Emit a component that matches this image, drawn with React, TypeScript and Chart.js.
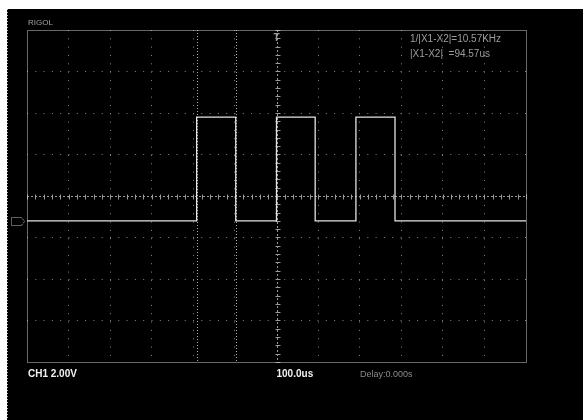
import React, { useEffect, useRef } from "react";
import { Chart, registerables } from "chart.js";
Chart.register(...registerables);

// Time axis (microseconds) and channel voltage of the captured trace
const timeUs = [-600, -192, -192, -98, -98, 0, 0, 93, 93, 191, 191, 285, 285, 600];
const volts = [0, 0, 5, 5, 0, 0, 5, 5, 0, 0, 5, 5, 0, 0];
// Screen range: 12 divisions of 100us, 8 divisions of 2V (offset +1.2V)
const xMin = -600;
const xMax = 600;
const xDiv = 100;
const yMin = -6.8;
const yMax = 9.2;
const yDiv = 2;
const yCenter = 1.2;
const groundV = 0;
const cursorUs = [-192, -97.4];
const brandLabel = "RIGOL";
const cursorTexts = ["1/|X1-X2|=10.57KHz", "|X1-X2|  =94.57us"];
const channelLabel = "CH1 2.00V";
const timebaseLabel = "100.0us";
const delayLabel = "Delay:0.000s";

const divTicks = (min: number, max: number, step: number) => {
  const out: { value: number }[] = [];
  const n = Math.round((max - min) / step);
  for (let i = 0; i <= n; i++) out.push({ value: +(min + i * step).toFixed(4) });
  return out;
};

const scopePlugin = {
  id: "scope",
  beforeDraw(chart: any) {
    const ctx = chart.ctx;
    ctx.save();
    ctx.fillStyle = "#ffffff";
    ctx.fillRect(0, 0, chart.width, chart.height);
    ctx.fillStyle = "#000000";
    ctx.fillRect(7, 9, chart.width - 7, chart.height - 9);
    ctx.strokeStyle = "#bbbbbb";
    ctx.setLineDash([1, 2]);
    ctx.beginPath();
    ctx.moveTo(7.5, 9);
    ctx.lineTo(7.5, chart.height);
    ctx.stroke();
    ctx.restore();
  },
  beforeDatasetsDraw(chart: any) {
    const ctx = chart.ctx;
    const { left, right, top, bottom } = chart.chartArea;
    const xs = chart.scales.x;
    const ys = chart.scales.y;
    ctx.save();
    // center lines
    const cx = Math.round(xs.getPixelForValue(0)) + 0.5;
    const cy = Math.round(ys.getPixelForValue(yCenter)) + 0.5;
    ctx.strokeStyle = "#9a9a9a";
    ctx.lineWidth = 1;
    ctx.setLineDash([2, 2]);
    ctx.beginPath();
    ctx.moveTo(left, cy);
    ctx.lineTo(right, cy);
    ctx.moveTo(cx, top);
    ctx.lineTo(cx, bottom);
    ctx.stroke();
    ctx.setLineDash([]);
    ctx.beginPath();
    for (let t = xMin; t <= xMax; t += xDiv / 5) {
      const px = Math.round(xs.getPixelForValue(t)) + 0.5;
      ctx.moveTo(px, cy - 2);
      ctx.lineTo(px, cy + 3);
    }
    for (let v = yMin; v <= yMax + 1e-6; v += yDiv / 5) {
      const py = Math.round(ys.getPixelForValue(v)) + 0.5;
      ctx.moveTo(cx - 2, py);
      ctx.lineTo(cx + 3, py);
    }
    ctx.stroke();
    // cursors
    ctx.strokeStyle = "#b0b0b0";
    ctx.setLineDash([1, 2]);
    ctx.beginPath();
    cursorUs.forEach((c) => {
      const px = Math.round(xs.getPixelForValue(c)) + 0.5;
      ctx.moveTo(px, top);
      ctx.lineTo(px, bottom);
    });
    ctx.stroke();
    // frame
    ctx.strokeStyle = "#d0d0d0";
    ctx.setLineDash([1, 1]);
    ctx.strokeRect(left + 0.5, top + 0.5, right - left, bottom - top);
    ctx.restore();
  },
  afterDraw(chart: any) {
    const ctx = chart.ctx;
    const { left, top, bottom } = chart.chartArea;
    const xs = chart.scales.x;
    const ys = chart.scales.y;
    ctx.save();
    ctx.textBaseline = "alphabetic";
    ctx.textAlign = "left";
    ctx.fillStyle = "#a0a0a0";
    ctx.font = "8px 'Liberation Sans'";
    ctx.fillText(brandLabel, left + 1, top - 5);
    ctx.font = "10px 'Liberation Sans'";
    ctx.fillStyle = "#9c9c9c";
    ctx.fillText(cursorTexts[0], 410, 42);
    ctx.fillText(cursorTexts[1], 410, 57);
    ctx.fillStyle = "#f2f2f2";
    ctx.font = "bold 10px 'Liberation Sans'";
    ctx.fillText(channelLabel, left + 1, bottom + 15);
    ctx.fillText(timebaseLabel, xs.getPixelForValue(0), bottom + 15);
    ctx.fillStyle = "#8a8a8a";
    ctx.font = "9px 'Liberation Sans'";
    ctx.fillText(delayLabel, 360, bottom + 15);
    // ground marker
    const gy = Math.round(ys.getPixelForValue(groundV)) + 0.5;
    ctx.strokeStyle = "#bdbdbd";
    ctx.setLineDash([1, 1]);
    ctx.beginPath();
    ctx.moveTo(11.5, gy - 4);
    ctx.lineTo(21.5, gy - 4);
    ctx.lineTo(24.5, gy);
    ctx.lineTo(21.5, gy + 4);
    ctx.lineTo(11.5, gy + 4);
    ctx.closePath();
    ctx.stroke();
    // trigger marker
    ctx.setLineDash([]);
    ctx.fillStyle = "#9a9a9a";
    ctx.font = "bold 10px 'Liberation Sans'";
    ctx.textAlign = "center";
    ctx.fillText("T", xs.getPixelForValue(0), top + 11);
    ctx.restore();
  },
};

export default function App() {
  const ref = useRef<HTMLCanvasElement | null>(null);
  useEffect(() => {
    document.body.style.margin = "0";
    const canvas = ref.current;
    if (!canvas) return;
    const chart = new Chart(canvas, {
      type: "line",
      data: {
        datasets: [
          {
            data: timeUs.map((t, i) => ({ x: t, y: volts[i] })),
            borderColor: "#e4e4e4",
            borderWidth: 1.3,
            pointRadius: 0,
            tension: 0,
          },
        ],
      },
      options: {
        animation: false,
        responsive: false,
        devicePixelRatio: 1,
        layout: { padding: { left: 27, top: 30, right: 57, bottom: 58 } },
        plugins: { legend: { display: false }, tooltip: { enabled: false } },
        scales: {
          x: {
            type: "linear",
            min: xMin,
            max: xMax,
            afterBuildTicks: (s: any) => {
              s.ticks = divTicks(xMin, xMax, xDiv);
            },
            ticks: { display: false },
            grid: {
              drawTicks: false,
              color: (c: any) => {
                const v = c.tick?.value;
                return v === xMin || v === xMax || v === 0 ? "transparent" : "#858585";
              },
            },
            border: { display: false, dash: [1, 7.33] },
          },
          y: {
            type: "linear",
            min: yMin,
            max: yMax,
            afterBuildTicks: (s: any) => {
              s.ticks = divTicks(yMin, yMax, yDiv);
            },
            ticks: { display: false },
            grid: {
              drawTicks: false,
              color: (c: any) => {
                const v = c.tick?.value;
                return Math.abs(v - yMin) < 1e-6 || Math.abs(v - yMax) < 1e-6 || Math.abs(v - yCenter) < 1e-6
                  ? "transparent"
                  : "#858585";
              },
            },
            border: { display: false, dash: [1, 7.3] },
          },
        },
      },
      plugins: [scopePlugin],
    });
    return () => chart.destroy();
  }, []);
  return (
    <div style={{ position: "absolute", left: 0, top: 0, width: 583, height: 420 }}>
      <canvas ref={ref} width={583} height={420} />
    </div>
  );
}
